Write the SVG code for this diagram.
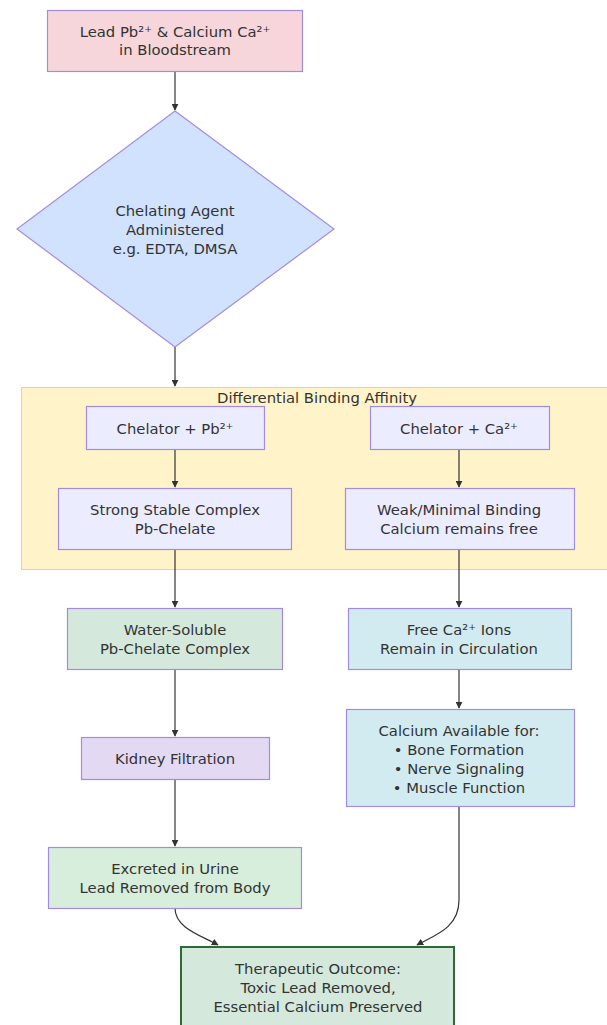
<svg xmlns="http://www.w3.org/2000/svg" width="607" height="1025" viewBox="0 0 607 1025">
<style>
text{font-family:"DejaVu Sans","Liberation Sans",sans-serif;font-size:14.8px;fill:#333;text-anchor:middle;dominant-baseline:central}
.n{stroke:#a38ce0;stroke-width:1.2}
.e{fill:none;stroke:#333;stroke-width:1.2}
</style>
<defs>
<marker id="ah" viewBox="0 0 10 10" refX="9" refY="5" markerWidth="7" markerHeight="7" orient="auto" markerUnits="userSpaceOnUse">
<path d="M0,0 L10,5 L0,10 z" fill="#333"/>
</marker>
</defs>
<rect width="607" height="1025" fill="#fff"/>
<g id="cluster">
<rect x="21.5" y="387.5" width="595" height="182" fill="#fff3c9" stroke="#e6d58c" stroke-width="1"/>
<text x="317" y="397">Differential Binding Affinity</text>
</g>
<g id="edges">
<path class="e" d="M175,71 V110" marker-end="url(#ah)"/>
<path class="e" d="M175,347 V386" marker-end="url(#ah)"/>
<path class="e" d="M175,449 V487" marker-end="url(#ah)"/>
<path class="e" d="M459,449 V487" marker-end="url(#ah)"/>
<path class="e" d="M175,549 V607" marker-end="url(#ah)"/>
<path class="e" d="M459,549 V607" marker-end="url(#ah)"/>
<path class="e" d="M175,669 V736" marker-end="url(#ah)"/>
<path class="e" d="M459,669 V708" marker-end="url(#ah)"/>
<path class="e" d="M175,779 V846" marker-end="url(#ah)"/>
<path class="e" d="M175,908 C175,928 200,935 218,945" marker-end="url(#ah)"/>
<path class="e" d="M459,806 V900 C459,928 435,935 417,945" marker-end="url(#ah)"/>
</g>
<g id="lead">
<rect class="n" x="47.5" y="10.5" width="255" height="61" fill="#f6d6da"/>
<text x="175" y="31">Lead Pb²⁺ &amp; Calcium Ca²⁺</text>
<text x="175" y="49">in Bloodstream</text>
</g>
<g id="chelating">
<polygon class="n" points="175,111 334,229 175,347 17,229" fill="#d0e2fe"/>
<text x="175" y="210">Chelating Agent</text>
<text x="175" y="229">Administered</text>
<text x="175" y="248">e.g. EDTA, DMSA</text>
</g>
<g id="chelPb">
<rect class="n" x="86.5" y="406.5" width="178" height="43" fill="#ececff"/>
<text x="175" y="428">Chelator + Pb²⁺</text>
</g>
<g id="chelCa">
<rect class="n" x="370.5" y="406.5" width="179" height="43" fill="#ececff"/>
<text x="459" y="428">Chelator + Ca²⁺</text>
</g>
<g id="strong">
<rect class="n" x="58.5" y="488.5" width="233" height="61" fill="#ececff"/>
<text x="175" y="509">Strong Stable Complex</text>
<text x="175" y="528">Pb-Chelate</text>
</g>
<g id="weak">
<rect class="n" x="345.5" y="488.5" width="229" height="61" fill="#ececff"/>
<text x="459" y="509">Weak/Minimal Binding</text>
<text x="459" y="528">Calcium remains free</text>
</g>
<g id="soluble">
<rect class="n" x="67.5" y="608.5" width="215" height="61" fill="#d4e9dc"/>
<text x="175" y="629">Water-Soluble</text>
<text x="175" y="648">Pb-Chelate Complex</text>
</g>
<g id="freeCa">
<rect class="n" x="348.5" y="608.5" width="223" height="61" fill="#d2ebf0"/>
<text x="459" y="629">Free Ca²⁺ Ions</text>
<text x="459" y="648">Remain in Circulation</text>
</g>
<g id="kidney">
<rect class="n" x="81.5" y="737.5" width="188" height="42" fill="#e3d9f3"/>
<text x="175" y="758">Kidney Filtration</text>
</g>
<g id="available">
<rect class="n" x="346.5" y="709.5" width="228" height="97" fill="#d2ebf0"/>
<text x="459" y="730">Calcium Available for:</text>
<text x="459" y="749">• Bone Formation</text>
<text x="459" y="768">• Nerve Signaling</text>
<text x="459" y="787">• Muscle Function</text>
</g>
<g id="excreted">
<rect class="n" x="48.5" y="847.5" width="253" height="61" fill="#d6eedb"/>
<text x="175" y="868">Excreted in Urine</text>
<text x="175" y="887">Lead Removed from Body</text>
</g>
<g id="outcome">
<rect x="181" y="947" width="273" height="90" fill="#d4e9dc" stroke="#2e6b34" stroke-width="2"/>
<text x="318" y="968">Therapeutic Outcome:</text>
<text x="318" y="987">Toxic Lead Removed,</text>
<text x="318" y="1006">Essential Calcium Preserved</text>
</g>
</svg>
